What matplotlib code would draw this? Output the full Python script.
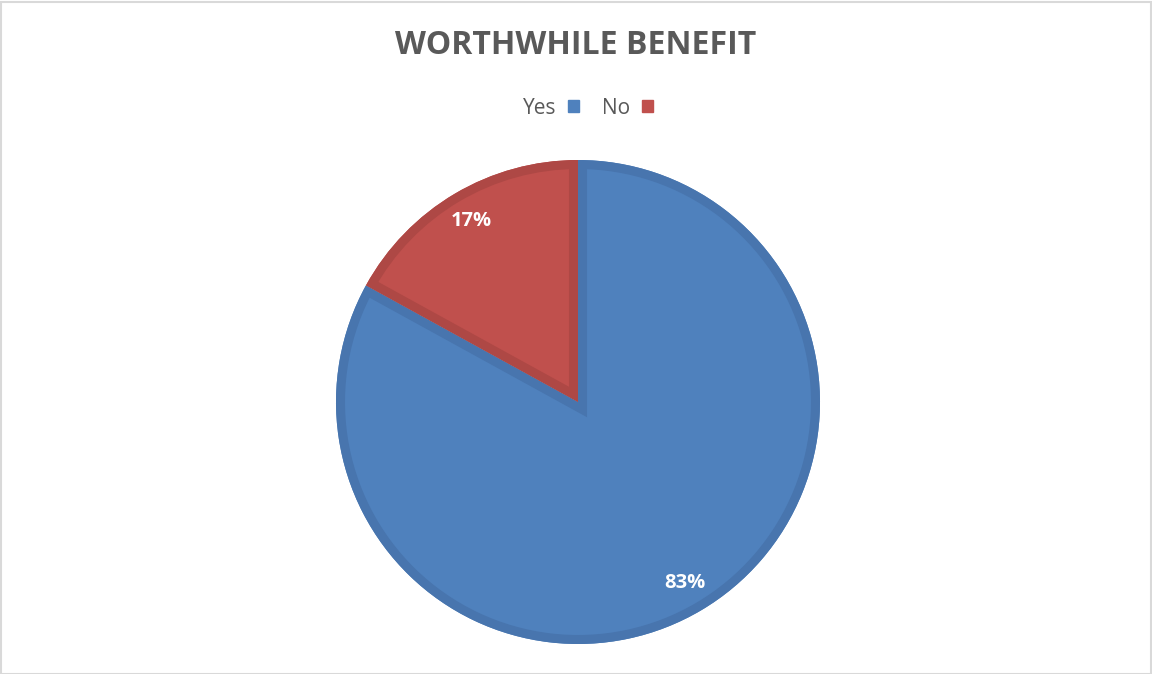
import matplotlib.pyplot as plt
from matplotlib.patches import Patch, Rectangle, Wedge

# Data
labels = ['Yes', 'No']
values = [83, 17]
colors = ['#4F81BD', '#C0504D']
edge_colors = ['#4875AE', '#AE4845']

W, H = 1152, 674
fig = plt.figure(figsize=(W / 100, H / 100), dpi=100)
ax = fig.add_axes([0, 0, 1, 1])

center = (578, H - 402)
radius = 242

wedges, texts, autotexts = ax.pie(
    values, colors=colors, startangle=90, counterclock=False,
    center=center, radius=radius, autopct='%1.0f%%', pctdistance=0.87,
    wedgeprops=dict(linewidth=0),
    textprops=dict(color='white', fontsize=14.5, fontweight='bold', family='Open Sans'),
)
ax.set_xlim(0, W)
ax.set_ylim(0, H)
ax.set_aspect('auto')
ax.axis('off')

# darker inner border on each slice: a thick outline kept inside the slice
for w, ec in zip(wedges, edge_colors):
    rim = Wedge(w.center, w.r, w.theta1, w.theta2, facecolor='none',
                edgecolor=ec, linewidth=13, zorder=w.get_zorder() + 0.1)
    ax.add_patch(rim)
    rim.set_clip_path(w)
for t in autotexts:
    t.set_zorder(5)

fig.text(0.5, 1 - 46 / H, 'WORTHWHILE BENEFIT', ha='center', va='center',
         fontsize=23, fontweight='bold', color='#595959', family='Open Sans')

handles = [Patch(facecolor=c, edgecolor=c) for c in colors]
leg = fig.legend(handles, labels, loc='center', bbox_to_anchor=(588 / W, 1 - 108 / H),
                 ncol=2, frameon=False, markerfirst=False, handlelength=0.55,
                 handleheight=0.55, handletextpad=0.55, columnspacing=1.1,
                 prop=dict(family='Open Sans', size=15))
for t in leg.get_texts():
    t.set_color('#595959')

# light frame around the chart area
fig.patches.append(Rectangle((0.5 / W, 0.5 / H), 1 - 2 / W, 1 - 2 / H,
                             transform=fig.transFigure, fill=False,
                             edgecolor='#D9D9D9', linewidth=1.5))

fig.savefig('out.png', dpi=100)
